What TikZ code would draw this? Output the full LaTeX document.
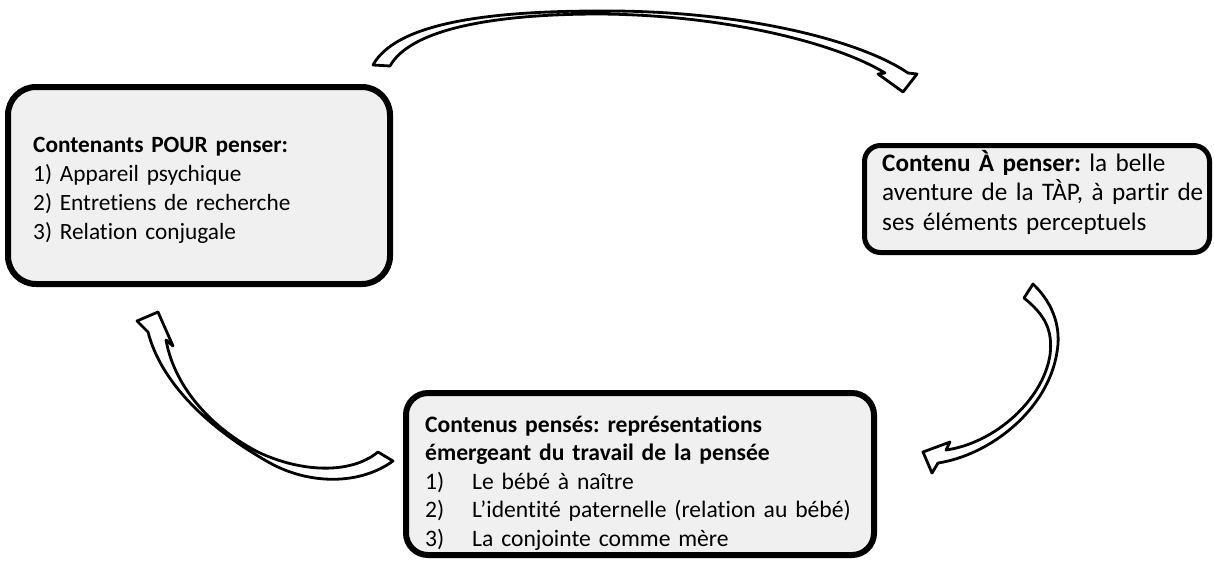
\documentclass[tikz,border=0pt]{standalone}
\usepackage{fontspec}
\setmainfont{Carlito}[Ligatures=NoCommon]
\begin{document}
\frenchspacing
\begin{tikzpicture}[x=1pt,y=-1pt,
  box/.style={draw=black, fill=black!6, rounded corners=#1},
  box/.default=20pt,
  txt/.style={inner sep=0pt, align=left, anchor=base west,
    font=\fontsize{23.3}{29}\selectfont},
  blockarrow/.style={draw=black, fill=white, line width=2.8pt, line join=round}
]
\useasboundingbox (0,0) rectangle (1214,560);

% containers for thinking
\node[box=28pt, line width=6pt, minimum width=382pt, minimum height=197pt] (pour) at (199,185.5) {};
\node[txt, text width=350pt] (pourtxt) at (33,152)
  {\textbf{Contenants POUR penser:}\\
   1) Appareil psychique\\
   2) Entretiens de recherche\\
   3) Relation conjugale};

% content to be thought
\node[box=16pt, line width=5pt, minimum width=345pt, minimum height=107pt] (apenser) at (1037,199) {};
\node[txt, text width=328pt, font=\fontsize{25.2}{29.5}\selectfont] (apensertxt) at (882,171)
  {\textbf{Contenu À penser:} la belle\\
   aventure de la TÀP, à partir de\\
   ses éléments perceptuels};

% thought contents
\node[box=22pt, line width=6pt, minimum width=468pt, minimum height=162pt] (penses) at (640,474) {};
\node[txt, text width=445pt, font=\fontsize{23.6}{28.5}\selectfont] (pensestxt) at (425,432)
  {\textbf{Contenus pensés: représentations}\\
   \textbf{émergeant du travail de la pensée}\\
   \makebox[47pt][l]{1)}Le bébé à naître\\
   \makebox[47pt][l]{2)}L’identité paternelle (relation au bébé)\\
   \makebox[47pt][l]{3)}La conjointe comme mère};

% curved block arrows of the cycle
\draw[blockarrow] (373,65) -- (390,66)
  .. controls (410,30) and (490,14) .. (600,14)
  .. controls (730,15) and (840,45) .. (885,73)
  -- (878,74) -- (903,92) -- (917,74) -- (908,73)
  .. controls (860,40) and (740,10) .. (600,11)
  .. controls (480,11) and (395,25) .. (373,65) -- cycle;

\draw[blockarrow] (1024,298) -- (1033,284)
  .. controls (1055,305) and (1061,330) .. (1057,352)
  .. controls (1048,410) and (990,455) .. (938,463)
  -- (932,473) -- (923,452) -- (950,442) -- (946,450)
  .. controls (995,443) and (1043,400) .. (1050,355)
  .. controls (1053,330) and (1045,315) .. (1024,298) -- cycle;

\draw[blockarrow] (378,452) -- (393,461)
  .. controls (360,485) and (310,485) .. (270,463)
  .. controls (220,435) and (163,390) .. (148,332)
  -- (137,321) -- (158,312) -- (173,346) -- (166,340)
  .. controls (175,390) and (215,430) .. (258,452)
  .. controls (300,472) and (350,475) .. (378,452) -- cycle;
\end{tikzpicture}
\end{document}
